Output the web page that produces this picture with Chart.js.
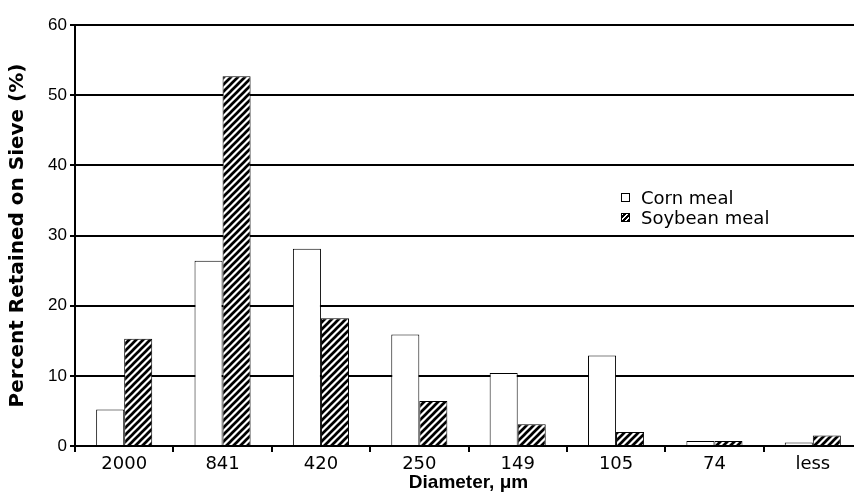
<!DOCTYPE html>
<html>
<head>
<meta charset="utf-8">
<script src="https://cdn.jsdelivr.net/npm/chart.js@4"></script>
<style>
  body { margin: 0; background: #fff; overflow: hidden; }
  #wrap { position: relative; width: 870px; height: 496px; }
  #legend {
    position: absolute; left: 621px; top: 188px;
    font-family: "DejaVu Sans", sans-serif; font-size: 18px; line-height: 19.5px;
    color: #000;
  }
  #legend div { display: flex; align-items: center; }
  #legend span.box {
    display: inline-block; width: 7px; height: 7px; border: 1px solid #000;
    margin-right: 11px; background: #fff;
  }
  #legend span.hatch {
    background: repeating-linear-gradient(-45deg, #000 0 2px, #fff 2px 3.5px);
  }
</style>
</head>
<body>
<div id="wrap">
  <canvas id="sieveChart"></canvas>
  <div id="legend">
    <div><span class="box"></span>Corn meal</div>
    <div><span class="box hatch"></span>Soybean meal</div>
  </div>
</div>
<script>
// sieve sizes (um)
const sieveSizes = ['2000', '841', '420', '250', '149', '105', '74', 'less'];
const cornMeal = [5.2, 26.4, 28.1, 15.9, 10.4, 12.9, 0.7, 0.5];
const soybeanMeal = [15.3, 52.7, 18.2, 6.4, 3.1, 2.0, 0.7, 1.5];
const yTicks = [0, 10, 20, 30, 40, 50, 60];

const SANS = '"Liberation Sans", Arial, sans-serif';
const WIDE = '"DejaVu Sans", sans-serif';

// diagonal hatch for soybean bars
function makeHatch() {
  const s = 7;
  const c = document.createElement('canvas');
  c.width = s; c.height = s;
  const g = c.getContext('2d');
  g.fillStyle = '#fff';
  g.fillRect(0, 0, s, s);
  g.strokeStyle = '#000';
  g.lineWidth = 2.7;
  g.beginPath();
  g.moveTo(-1, 1); g.lineTo(1, -1);
  g.moveTo(0, s); g.lineTo(s, 0);
  g.moveTo(s - 1, s + 1); g.lineTo(s + 1, s - 1);
  g.stroke();
  return g.createPattern(c, 'repeat');
}

const ctx = document.getElementById('sieveChart').getContext('2d');

const sieveChart = new Chart(ctx, {
  type: 'bar',
  data: {
    labels: sieveSizes,
    datasets: [{
      label: 'Corn meal',
      data: cornMeal,
      backgroundColor: '#fff',
      borderColor: '#000',
      borderWidth: 1
    }, {
      label: 'Soybean meal',
      data: soybeanMeal,
      backgroundColor: makeHatch(),
      borderColor: '#000',
      borderWidth: 1
    }]
  },
  options: {
    responsive: true,
    maintainAspectRatio: false,
    animation: false,
    layout: { padding: { top: 25, right: 8, left: 0, bottom: 0 } },
    plugins: {
      legend: { display: false },
      tooltip: { enabled: false }
    },
    datasets: {
      bar: { categoryPercentage: 0.57, barPercentage: 1.0 }
    },
    scales: {
      x: {
        grid: { drawOnChartArea: false, drawTicks: true, tickLength: 6, color: '#000', lineWidth: 2 },
        border: { display: true, color: '#000', width: 2 },
        ticks: { color: '#000', font: { family: WIDE, size: 18 }, padding: 2 },
        title: {
          display: true, text: 'Diameter, \u03bcm', color: '#000',
          font: { family: SANS, size: 19, weight: 'bold' }, padding: { top: 0, bottom: 2 }
        },
        afterFit: (scale) => { scale.height = 50; }
      },
      y: {
        min: 0, max: 60,
        afterBuildTicks: (scale) => { scale.ticks = yTicks.map(v => ({ value: v })); },
        grid: { color: '#000', lineWidth: 2, tickLength: 5 },
        border: { display: true, color: '#000', width: 2 },
        ticks: { color: '#000', font: { family: SANS, size: 17 }, padding: 3 },
        title: {
          display: true, text: 'Percent Retained on Sieve (%)', color: '#000',
          font: { family: WIDE, size: 20, weight: 'bold' }, padding: { top: 6, bottom: 0 }
        },
        afterFit: (scale) => { scale.width = 75; }
      }
    }
  }
});
</script>
</body>
</html>
